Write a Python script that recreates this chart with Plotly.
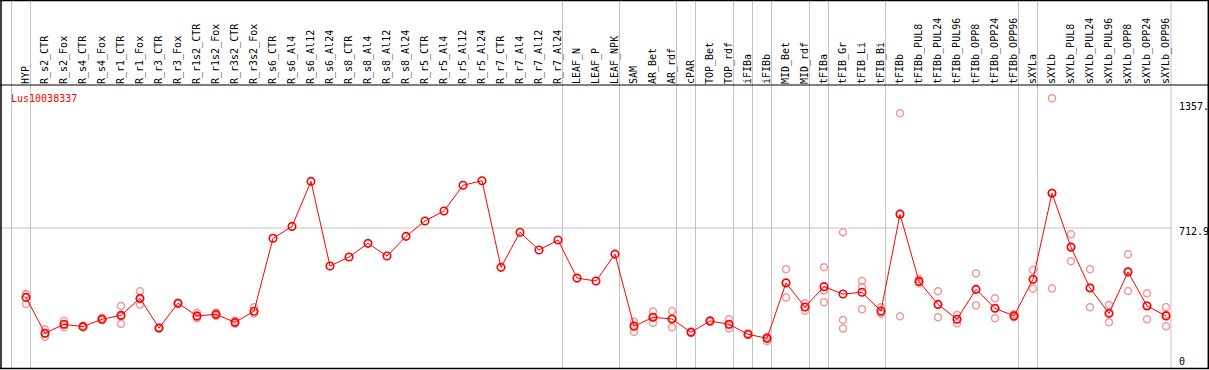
import plotly.graph_objects as go

categories = ["HYP", "R_s2_CTR", "R_s2_Fox", "R_s4_CTR", "R_s4_Fox", "R_r1_CTR", "R_r1_Fox",
              "R_r3_CTR", "R_r3_Fox", "R_r1s2_CTR", "R_r1s2_Fox", "R_r3s2_CTR", "R_r3s2_Fox",
              "R_s6_CTR", "R_s6_Al4", "R_s6_Al12", "R_s6_Al24", "R_s8_CTR", "R_s8_Al4", "R_s8_Al12",
              "R_s8_Al24", "R_r5_CTR", "R_r5_Al4", "R_r5_Al12", "R_r5_Al24", "R_r7_CTR", "R_r7_Al4",
              "R_r7_Al12", "R_r7_Al24", "LEAF_N", "LEAF_P", "LEAF_NPK", "SAM", "AR_Bet", "AR_rdf",
              "cPAR", "TOP_Bet", "TOP_rdf", "iFIBa", "iFIBb", "MID_Bet", "MID_rdf", "tFIBa",
              "tFIB_Gr", "tFIB_Li", "tFIB_Bi", "tFIBb", "tFIBb_PUL8", "tFIBb_PUL24", "tFIBb_PUL96",
              "tFIBb_OPP8", "tFIBb_OPP24", "tFIBb_OPP96", "sXYLa", "sXYLb", "sXYLb_PUL8",
              "sXYLb_PUL24", "sXYLb_PUL96", "sXYLb_OPP8", "sXYLb_OPP24", "sXYLb_OPP96"]

means = [357, 173, 219, 207, 245, 265, 352, 200, 327, 262, 270, 229, 286,
         660, 721, 952, 518, 564, 634, 569, 670, 749, 800, 932, 955, 511, 691, 600, 651,
         456, 441, 579, 209, 255, 246, 178, 236, 219, 168, 147, 431, 308, 412,
         374, 383, 287, 783, 439, 321, 245, 398, 301, 262, 450, 891, 614,
         405, 275, 487, 313, 262]

replicates = [[374, 372, 323], [193, 171, 155], [237, 216, 204], [212, 203, 206], [252, 240, 243],
              [313, 260, 222], [388, 348, 320], [203, 198], [330, 324], [278, 258, 250],
              [280, 262, 268], [238, 222, 227], [306, 276, 276],
              [], [], [], [], [], [], [], [], [], [], [], [], [], [], [], [], [], [], [],
              [232, 181, 214], [284, 227, 254], [287, 204, 247], [182, 174], [240, 232],
              [245, 197, 215], [172, 164], [155, 133, 153], [501, 357, 435], [327, 289, 308],
              [511, 332, 393], [691, 241, 198], [441, 412, 296], [306, 275, 280],
              [1301, 260, 788], [451, 429, 437], [388, 255, 320], [267, 224, 244],
              [480, 316, 398], [352, 250, 301], [270, 255, 261], [497, 403, 450],
              [1378, 403, 892], [681, 542, 619], [501, 306, 408], [318, 229, 278],
              [578, 390, 493], [378, 245, 316], [308, 209, 269]]

# group separators placed after these category indices
group_ends = [-1, 0, 28, 31, 34, 35, 37, 38, 39, 41, 42, 45, 52, 53]

y_ticks = [0, 712.9, 1357.0]
y_tick_text = ["0", "712.9", "1357."]
title = "Lus10038337"

W, H = 1209, 370
ML, MR, MT, MB = 2, 38, 85, 1
PW, PH = W - ML - MR, H - MT - MB
n = len(categories)
xs = list(range(n))
xr = [-24 / 19, (PW - 24) / 19]
yr = [-10.26, 1446.2]


def px_x(px):
    return (px - ML) / PW


def px_y(py):
    return (H - MB - py) / PH


rx, ry = [], []
for i, reps in enumerate(replicates):
    for v in reps:
        rx.append(i)
        ry.append(v)

fig = go.Figure()
fig.add_trace(go.Scatter(x=rx, y=ry, mode="markers",
                         marker=dict(symbol="circle-open", size=7, color="#f09a9a",
                                     line=dict(width=1.5, color="#f09a9a")),
                         hoverinfo="skip", showlegend=False))
fig.add_trace(go.Scatter(x=xs, y=means, mode="lines+markers",
                         line=dict(color="#ff0000", width=1),
                         marker=dict(symbol="circle-open", size=7.5, color="#ff0000",
                                     line=dict(width=1.6, color="#ff0000")),
                         showlegend=False))

shapes = []
gray = "#c4c4c4"
# horizontal grid at 712.9
shapes.append(dict(type="line", xref="paper", yref="y", x0=px_x(0), x1=1, y0=712.9, y1=712.9,
                   line=dict(color=gray, width=1), layer="below"))
# vertical group separators
for k in group_ends:
    shapes.append(dict(type="line", xref="x", yref="paper", x0=k + 0.237, x1=k + 0.237,
                       y0=0, y1=px_y(0), line=dict(color=gray, width=1), layer="below"))
# right edge of plot area
shapes.append(dict(type="line", xref="paper", yref="paper", x0=1, x1=1, y0=0, y1=px_y(0),
                   line=dict(color=gray, width=1), layer="below"))
# black frame lines
blk = dict(color="black", width=1.5)
shapes.append(dict(type="line", xref="paper", yref="paper", x0=px_x(0), x1=px_x(W), y0=px_y(0.6), y1=px_y(0.6), line=blk))
shapes.append(dict(type="line", xref="paper", yref="paper", x0=px_x(0), x1=px_x(W), y0=px_y(85), y1=px_y(85), line=dict(color="black", width=1)))
shapes.append(dict(type="line", xref="paper", yref="paper", x0=px_x(0), x1=px_x(W), y0=px_y(368.6), y1=px_y(368.6), line=blk))
shapes.append(dict(type="line", xref="paper", yref="paper", x0=px_x(1), x1=px_x(1), y0=px_y(0), y1=px_y(369), line=blk))
shapes.append(dict(type="line", xref="paper", yref="paper", x0=px_x(1208.3), x1=px_x(1208.3), y0=px_y(0), y1=px_y(369), line=blk))

annotations = [dict(text=title, xref="paper", yref="paper", x=px_x(9), y=px_y(91), xanchor="left",
                    yanchor="top", showarrow=False,
                    font=dict(family="DejaVu Sans Mono", size=10, color="#ff0000"))]
for v, t in zip(y_ticks, y_tick_text):
    annotations.append(dict(text=t, xref="paper", yref="y", x=px_x(1177), y=v, xanchor="left",
                            yanchor="middle", yshift=-4 if v > 0 else 6, showarrow=False,
                            font=dict(family="DejaVu Sans Mono", size=10, color="black")))

fig.update_layout(
    width=W, height=H, margin=dict(l=ML, r=MR, t=MT, b=MB, pad=0),
    paper_bgcolor="white", plot_bgcolor="white",
    xaxis=dict(range=xr, side="top", tickmode="array", tickvals=xs, ticktext=categories,
               tickangle=-90, showgrid=False, zeroline=False, showline=False, ticks="",
               tickfont=dict(family="DejaVu Sans Mono", size=10, color="black")),
    yaxis=dict(range=yr, showgrid=False, zeroline=False, showline=False, showticklabels=False,
               ticks=""),
    shapes=shapes, annotations=annotations, showlegend=False,
)
fig.write_html("out.html", config={"displayModeBar": False},
               post_script="document.body.style.margin='0';document.body.style.overflow='hidden';")
